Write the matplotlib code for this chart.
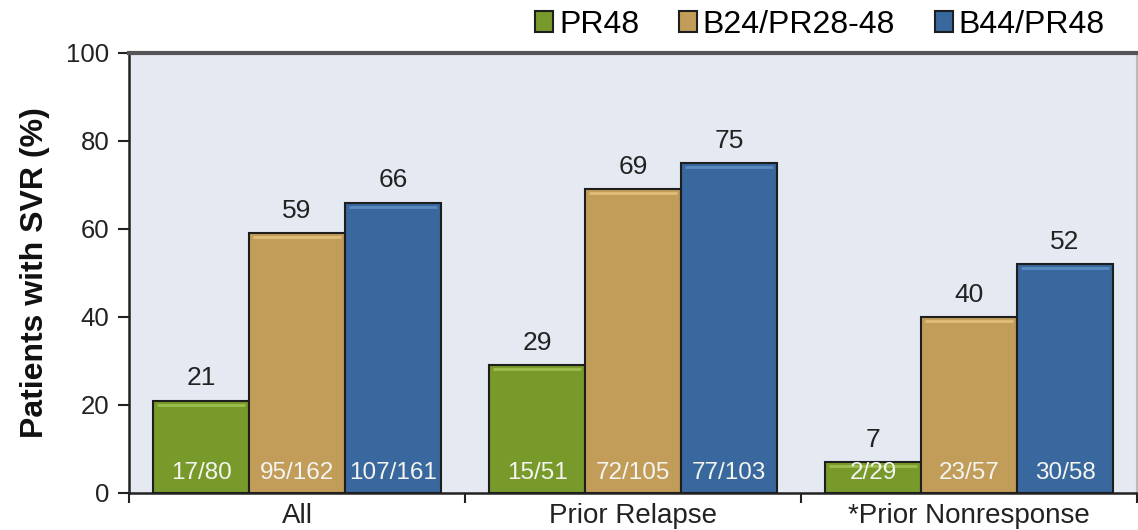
import matplotlib
matplotlib.use("Agg")
import matplotlib.pyplot as plt
import numpy as np

categories = ["All", "Prior Relapse", "*Prior Nonresponse"]
series_names = ["PR48", "B24/PR28-48", "B44/PR48"]
pr48 = [21, 29, 7]
b24 = [59, 69, 40]
b44 = [66, 75, 52]
pr48_n = ["17/80", "15/51", "2/29"]
b24_n = ["95/162", "72/105", "23/57"]
b44_n = ["107/161", "77/103", "30/58"]
yticks = [0, 20, 40, 60, 80, 100]

colors = ["#789A2B", "#C29D5A", "#38689D"]
highlights = ["#9DBE4E", "#E0BE7A", "#5A8AC0"]
plt.rcParams['font.family'] = ['Liberation Sans', 'DejaVu Sans']

fig = plt.figure(figsize=(11.38, 5.30), dpi=100)
ax = fig.add_axes([129/1138, 37/530, 1008/1138, 440/530])
ax.set_facecolor("#E4E9F2")

x = np.arange(len(categories))
w = 0.2857
vals = [pr48, b24, b44]
ns = [pr48_n, b24_n, b44_n]
for i, (v, n, c, hc, name) in enumerate(zip(vals, ns, colors, highlights, series_names)):
    xs = x + (i - 1) * w
    ax.bar(xs, v, width=w, color=c, edgecolor="#1E1E1E", linewidth=1.5,
           label=name, zorder=3)
    for xi, vi, ni in zip(xs, v, n):
        ax.plot([xi - w / 2 + 0.012, xi + w / 2 - 0.012], [vi - 0.9, vi - 0.9],
                color=hc, lw=2, zorder=3.5, solid_capstyle="butt")
        ax.text(xi, vi + 2.3, str(vi), ha="center", va="bottom", fontsize=19,
                color="#222222", zorder=4)
        ax.text(xi, 4.5, ni, ha="center", va="center", fontsize=17.5,
                color="#F4F4F0", zorder=4)

ax.set_xlim(-0.5, len(categories) - 0.5)
ax.set_ylim(0, 100)
ax.set_yticks(yticks)
ax.set_yticklabels([str(t) for t in yticks], fontsize=18.5, color="#222222")
ax.set_xticks(x)
ax.set_xticklabels(categories, fontsize=20, color="#222222")
ax.tick_params(axis="x", which="major", length=0, pad=7)
ax.set_xticks(np.arange(len(categories) + 1) - 0.5, minor=True)
ax.tick_params(axis="x", which="minor", length=7, width=1.5, color="#222222", direction="out")
ax.tick_params(axis="y", length=8, width=1.5, color="#222222", pad=6)

ax.set_ylabel("Patients with SVR (%)", fontsize=23, fontweight="bold", color="#111111", labelpad=12)

ax.spines["top"].set_color("#555555")
ax.spines["top"].set_linewidth(3)
ax.spines["left"].set_color("#222222")
ax.spines["left"].set_linewidth(1.8)
ax.spines["bottom"].set_color("#222222")
ax.spines["bottom"].set_linewidth(1.8)
ax.spines["right"].set_color("#BBBBBB")
ax.spines["right"].set_linewidth(1.5)

leg = ax.legend(loc="lower right", bbox_to_anchor=(0.968, 1.03), ncol=3, frameon=False,
                fontsize=23, handlelength=0.56, handleheight=0.6, handletextpad=0.18,
                columnspacing=1.25, borderaxespad=0.0, borderpad=0.0)

fig.savefig("out.png", dpi=100)
